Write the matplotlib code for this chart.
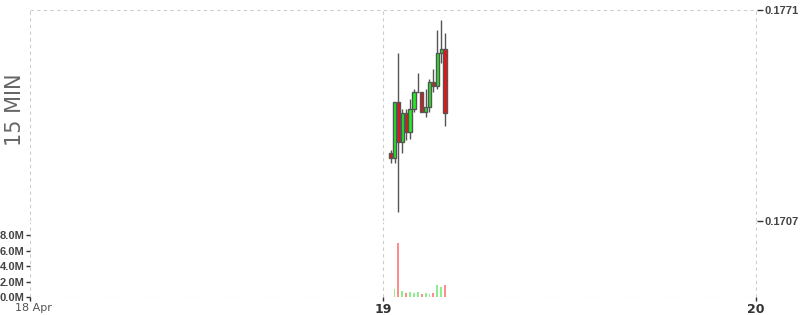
import matplotlib
matplotlib.use("Agg")
import matplotlib.pyplot as plt
from matplotlib.patches import Rectangle
from matplotlib.ticker import FuncFormatter
from matplotlib.transforms import ScaledTranslation

# ---- data ----
# time of each 15-min candle, in hours after 19 Apr 00:00
times_h = [0.50, 0.75, 1.00, 1.25, 1.50, 1.75, 2.00, 2.25, 2.50, 2.75, 3.00, 3.25, 3.50, 3.75, 4.00]
opens = [0.172772, 0.172611, 0.174300, 0.173087, 0.173985, 0.173390, 0.174088, 0.174604,
         0.174604, 0.173997, 0.174167, 0.174907, 0.174786, 0.175787, 0.175908]
highs = [0.172854, 0.174300, 0.175805, 0.174088, 0.174088, 0.174391, 0.174695, 0.175198,
         0.174604, 0.174695, 0.174998, 0.175301, 0.176493, 0.176797, 0.176393]
lows = [0.172468, 0.172468, 0.170982, 0.172772, 0.173157, 0.173178, 0.174015, 0.174604,
        0.173997, 0.173864, 0.173997, 0.174604, 0.174695, 0.175483, 0.173591]
closes = [0.172611, 0.174300, 0.173087, 0.173985, 0.173390, 0.174088, 0.174604, 0.174604,
          0.173997, 0.174167, 0.174907, 0.174786, 0.175787, 0.175908, 0.173985]
volumes_m = [0.05, 0.97, 7.0, 0.77, 0.55, 0.68, 0.47, 0.68, 0.43, 0.55, 0.43, 0.55, 1.58, 1.33, 1.58]

price_ticks = [0.1707, 0.1771]
vol_ticks = [0, 2, 4, 6, 8]
x_tick_pos = [-0.946, 0.0, 1.0]
x_tick_labels = ["18 Apr", "19", "20"]
panel_label = "15 MIN"

# ---- figure ----
fig = plt.figure(figsize=(8, 3.15), dpi=100)
W, H = 800, 315
L, R = 30, 757
axp = fig.add_axes([L / W, (H - 221) / H, (R - L) / W, 211 / H])
axv = fig.add_axes([L / W, (H - 297) / H, (R - L) / W, 75 / H], sharex=axp)

xs = [t / 24.0 for t in times_h]
interval = 0.25 / 24.0
bw = interval * 0.82

green = "#22ee22"
red = "#ee1111"
edge = "#555555"

for x, o, h, l, c in zip(xs, opens, highs, lows, closes):
    axp.vlines(x, l, h, color=edge, linewidth=1.0, zorder=2)
    col = green if c >= o else red
    bottom = min(o, c)
    height = abs(c - o)
    axp.add_patch(Rectangle((x - bw / 2, bottom), bw, height, facecolor=col,
                            edgecolor=edge, linewidth=1.0, zorder=3))

vcols = ["#ff8c8c" if c < o else "#8cee8c" for o, c in zip(opens, closes)]
axv.bar(xs, volumes_m, width=interval * 0.5, color=vcols, zorder=2)

grid_kw = dict(color="#cccccc", linestyle=(0, (3, 3)), linewidth=0.8)
tick_font = "Liberation Sans"

axp.set_xlim(x_tick_pos[0], 1.003)
axp.set_ylim(price_ticks[0], price_ticks[1])
axp.yaxis.tick_right()
axp.set_yticks(price_ticks)
axp.set_yticklabels([f"{v:.4f}" for v in price_ticks])
axp.tick_params(axis="y", direction="out", length=4, width=1, color="#333333",
                labelsize=8, labelcolor="#444444", pad=1.5)
for lab in axp.get_yticklabels():
    lab.set_fontweight("bold")
    lab.set_family(tick_font)
axp.tick_params(axis="x", which="both", length=0, labelbottom=False)
axp.set_xticks(x_tick_pos)
axp.grid(True, **grid_kw)
for s in axp.spines.values():
    s.set_visible(False)

axv.set_ylim(0, 9.68)
axv.set_yticks(vol_ticks)
axv.yaxis.set_major_formatter(FuncFormatter(lambda v, p: f"{v:.1f}M"))
axv.tick_params(axis="y", direction="out", length=3, width=1, color="#333333",
                labelsize=8, labelcolor="#444444", pad=1)
for lab in axv.get_yticklabels():
    lab.set_fontweight("bold")
    lab.set_family(tick_font)
axv.set_xticks(x_tick_pos)
axv.set_xticklabels(x_tick_labels)
axv.tick_params(axis="x", direction="out", length=3, width=1, color="#333333",
                labelsize=9, labelcolor="#333333", pad=1)
for i, lab in enumerate(axv.get_xticklabels()):
    if i == 0:
        lab.set_fontweight("normal")
        lab.set_color("#555555")
        lab.set_fontsize(8)
        lab.set_transform(lab.get_transform() + ScaledTranslation(3 / 100, 0, fig.dpi_scale_trans))
    else:
        lab.set_fontweight("bold")
axv.grid(True, axis="x", **grid_kw)
axv.axhline(0, zorder=1, **grid_kw)
for s in axv.spines.values():
    s.set_visible(False)

fig.text(15 / W, 1 - 110 / H, panel_label, rotation=90, ha="center", va="center",
         fontsize=15, color="#666666")

fig.savefig("out.png", dpi=100)
